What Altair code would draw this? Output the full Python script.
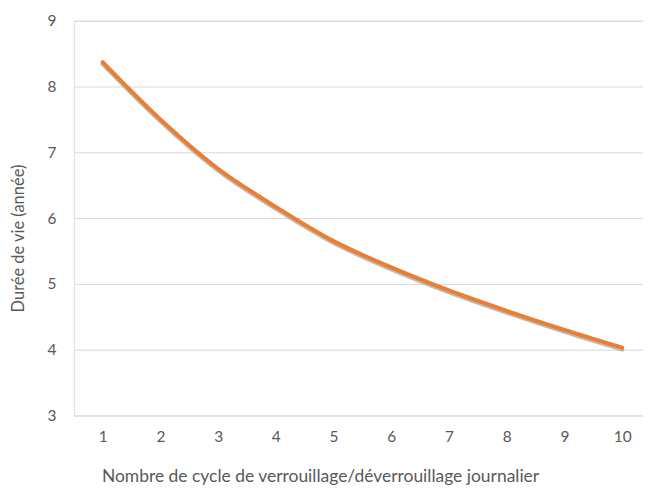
import altair as alt
import pandas as pd

cycles = [1, 2, 3, 4, 5, 6, 7, 8, 9, 10]
duree = [8.37, 7.50, 6.75, 6.17, 5.65, 5.25, 4.90, 4.59, 4.30, 4.03]

df = pd.DataFrame({"cycle": cycles, "duree": duree})

FONT = "Lato"
GREY = "#595959"

x_enc = alt.X(
    "cycle:Q",
    scale=alt.Scale(domain=[0.5, 10.36], nice=False, zero=False),
    axis=alt.Axis(
        values=cycles, format="d", grid=False, domain=False, ticks=False,
        labelPadding=14, labelFontSize=15.5, labelColor=GREY, labelFont=FONT,
        title="Nombre de cycle de verrouillage/déverrouillage journalier",
        titleFontSize=17.5, titleFontWeight="normal", titleColor=GREY, titleFont=FONT,
        titleX=247, titleY=52, titleBaseline="top",
    ),
)

y_axis = alt.Axis(
    values=[3, 4, 5, 6, 7, 8, 9], format="d", grid=True, gridColor="#d9d9d9", gridWidth=1,
    domain=False, ticks=False, labelPadding=18, labelFontSize=15.5,
    labelColor=GREY, labelFont=FONT,
    title="Durée de vie (année)", titleFontSize=16.5, titleFontWeight="normal",
    titleColor=GREY, titleFont=FONT, titleX=-47, titleY=218, titleAngle=270,
    titleBaseline="bottom", titleAlign="center",
)

shadow = alt.Chart(df).transform_calculate(
    ys="datum.duree - 0.03"
).mark_line(
    interpolate="monotone", color="#a9a9a9", strokeWidth=4, opacity=0.8, strokeCap="round"
).encode(
    x=x_enc,
    y=alt.Y("ys:Q", scale=alt.Scale(domain=[3, 9], nice=False, zero=False), axis=y_axis),
)

line = alt.Chart(df).mark_line(
    interpolate="monotone", color="#ED7D31", strokeWidth=4, strokeCap="round"
).encode(
    x=alt.X("cycle:Q"),
    y=alt.Y("duree:Q"),
)

chart = alt.layer(shadow, line).properties(
    width=571, height=396,
    autosize=alt.AutoSizeParams(type="none"),
    padding={"left": 66, "top": 12, "right": 0, "bottom": 72},
).configure_view(stroke=None).configure(background="white")

chart.save("out.html", embed_options={"renderer": "svg", "actions": False})
